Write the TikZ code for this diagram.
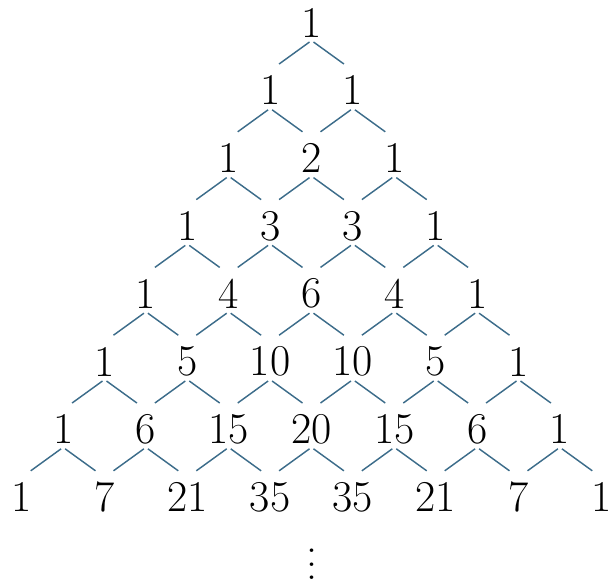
\documentclass[tikz,border=0pt]{standalone}
\usetikzlibrary{calc}
\definecolor{connblue}{RGB}{60,108,138}
\tikzset{
  num/.style={inner sep=0pt, font=\fontsize{44}{50}\selectfont},
  conn/.style={draw=connblue, line width=1.45pt},
}
\begin{document}
\begin{tikzpicture}[x=1pt,y=1pt]
\useasboundingbox (0,0) rectangle (609,-582);
\foreach \row [count=\r from 0] in {{1},{1,1},{1,2,1},{1,3,3,1},{1,4,6,4,1},{1,5,10,10,5,1},{1,6,15,20,15,6,1},{1,7,21,35,35,21,7,1}} {
  \foreach \v [count=\k from 0] in \row {
    \node[num] (n\r-\k) at ({311.5+(\k-\r/2)*82.8}, {-22.5-\r*67.8}) {\v};
  }
}
\foreach \r in {0,...,6} {
  \foreach \k in {0,...,\r} {
    \pgfmathtruncatemacro\rn{\r+1}
    \pgfmathtruncatemacro\kn{\k+1}
    \draw[conn] ($(n\r-\k)+(-2,-19.5)$) -- ($(n\rn-\k)+(9,26.3)$);
    \draw[conn] ($(n\r-\k)+(2,-19.5)$) -- ($(n\rn-\kn)+(-9,26.3)$);
  }
}
\node[num] (dots) at (311.7,-564.5) {\vbox{\baselineskip13.5pt\lineskiplimit0pt\hbox{.}\hbox{.}\hbox{.}}};
\end{tikzpicture}
\end{document}
